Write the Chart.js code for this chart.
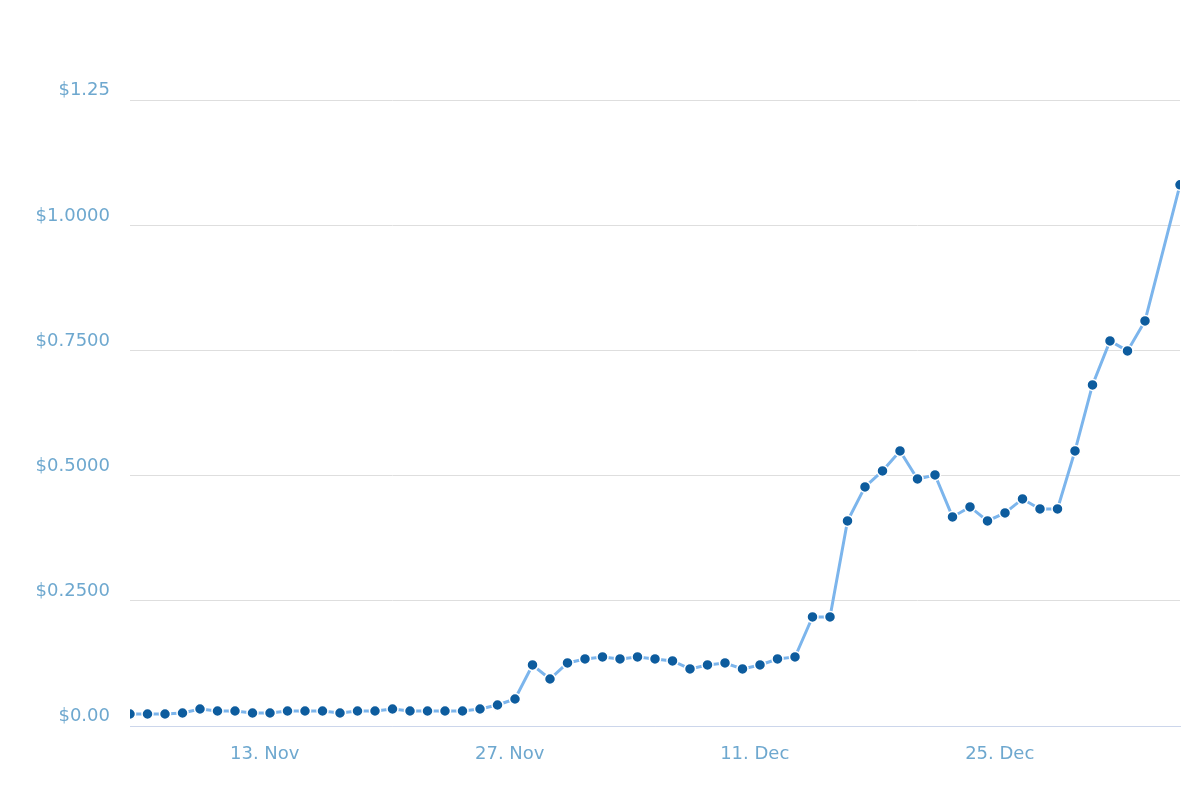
<!DOCTYPE html>
<html>
<head>
<meta charset="utf-8">
<script src="https://cdn.jsdelivr.net/npm/chart.js@4"></script>
<style>
  html, body { margin: 0; padding: 0; background: #fff; }
  #wrap { width: 1200px; height: 800px; }
</style>
</head>
<body>
<div id="wrap"><canvas id="priceChart"></canvas></div>
<script>
// day offsets from 5 Nov
const days = [0,1,2,3,4,5,6,7,8,9,10,11,12,13,14,15,16,17,18,19,20,21,22,23,24,25,26,27,28,29,
  30,31,32,33,34,35,36,37,38,39,40,41,42,43,44,45,46,47,48,49,50,51,52,53,54,55,56,57,58,60];
const prices = [0.024,0.024,0.024,0.026,0.034,0.030,0.030,0.026,0.026,0.030,0.030,0.030,0.026,0.030,0.030,
  0.034,0.030,0.030,0.030,0.030,0.034,0.042,0.054,0.122,0.094,0.126,0.134,0.138,0.134,0.138,
  0.134,0.130,0.114,0.122,0.126,0.114,0.122,0.134,0.138,0.218,0.218,0.410,0.478,0.510,0.550,
  0.494,0.502,0.418,0.438,0.410,0.426,0.454,0.434,0.434,0.550,0.682,0.770,0.750,0.810,1.082];
const xTickPos = [7.7, 21.7, 35.7, 49.7];
const xTickLabels = ["13. Nov", "27. Nov", "11. Dec", "25. Dec"];
const yTickPos = [0, 0.25, 0.5, 0.75, 1.0, 1.25];
const yTickLabels = ["$0.00", "$0.2500", "$0.5000", "$0.7500", "$1.0000", "$1.25"];

const points = days.map((d, i) => ({ x: d, y: prices[i] }));

new Chart(document.getElementById("priceChart"), {
  type: "line",
  data: {
    datasets: [{
      data: points,
      borderColor: "#7cb5ec",
      borderWidth: 3,
      pointBackgroundColor: "#0d5c9e",
      pointBorderColor: "#ffffff",
      pointBorderWidth: 1.5,
      pointRadius: 5.5,
      tension: 0
    }]
  },
  options: {
    responsive: true,
    maintainAspectRatio: false,
    animation: false,
    layout: { padding: { top: 0, right: 20, left: 0, bottom: 0 } },
    plugins: { legend: { display: false }, tooltip: { enabled: false } },
    scales: {
      x: {
        type: "linear",
        min: 0,
        max: 60,
        afterBuildTicks: axis => { axis.ticks = xTickPos.map(v => ({ value: v })); },
        afterFit: axis => { axis.height = 74; },
        grid: { display: false, drawTicks: true, tickLength: 10, tickColor: "#ccd6eb" },
        border: { color: "#ccd6eb", width: 1 },
        ticks: {
          color: "#6ea8cf",
          font: { family: "DejaVu Sans", size: 18 },
          padding: 8,
          maxRotation: 0,
          callback: (v, i) => xTickLabels[i]
        }
      },
      y: {
        min: 0,
        max: 1.39,
        afterBuildTicks: axis => { axis.ticks = yTickPos.map(v => ({ value: v })); },
        afterFit: axis => { axis.width = 130; },
        grid: { color: "#dedede", lineWidth: 1, drawTicks: false },
        border: { display: false },
        ticks: {
          color: "#6ea8cf",
          font: { family: "DejaVu Sans", size: 18 },
          padding: 20,
          labelOffset: -10,
          callback: (v, i) => yTickLabels[i]
        }
      }
    }
  }
});
</script>
</body>
</html>
